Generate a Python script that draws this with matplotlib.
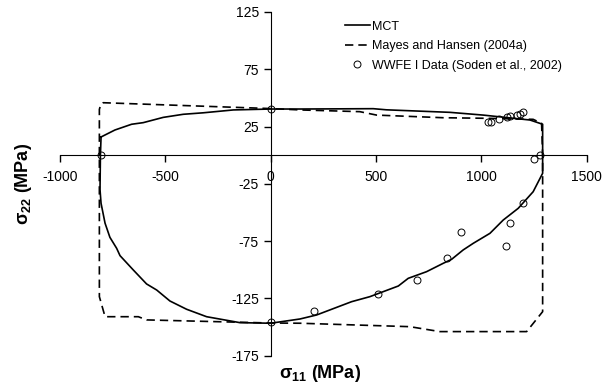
import matplotlib
matplotlib.use('Agg')
import matplotlib.pyplot as plt
import numpy as np

plt.rcParams['font.family'] = ['Liberation Sans', 'DejaVu Sans']
plt.rcParams['axes.unicode_minus'] = False
plt.rcParams['mathtext.fontset'] = 'custom'
plt.rcParams['mathtext.rm'] = 'Liberation Sans'
plt.rcParams['mathtext.bf'] = 'Liberation Sans:bold'

# MCT failure envelope (sigma11, sigma22), traced clockwise from the left
mct_x = [-805, -739, -660, -605, -510, -415, -320, -177, 0, 140, 487, 550, 851, 1009, 1231, 1291,
         1291, 1291, 1246, 1175, 1104, 1041, 962, 914, 859, 819, 740, 653, 606, 471, 384, 218, 139,
         0, -146, -304, -399, -478, -541, -589, -652, -715, -731, -763, -786, -805, -810, -808, -805]
mct_y = [15.9, 22, 27, 28.4, 33, 35.7, 37, 39.5, 40.3, 40.3, 40.6, 39.6, 37.4, 35, 30.7, 27,
         0, -15.8, -31.9, -46.4, -56.6, -68.2, -76.9, -82.7, -90.9, -94.4, -101.7, -107.5, -114.2,
         -123.5, -127.9, -139.5, -143, -146.7, -146.2, -141, -134.5, -127.3, -117.7, -112.4, -100.2,
         -87.7, -81.3, -71.7, -59.4, -42, -30, 0, 15.9]

# Mayes and Hansen (2004a)
mh_x = [-813, -813, -806, -795, 0, 140, 423, 503, 819, 1025, 1246, 1286, 1291, 1291, 1215, 803,
        661, 139, 0, -589, -628, -786, -813, -813]
mh_y = [0, 40, 44.5, 45.8, 40.7, 39.5, 38, 35, 32.7, 32.2, 31.3, 27.8, 0, -136.6, -154, -154,
        -149.7, -146.7, -146.5, -143.8, -141, -141, -123.5, 0]

# WWFE I data
exp_x = [-805, 0, 0, 1034, 1045, 1085, 1123, 1136, 1170, 1183, 1199, 1278, 1250,
         1199, 1136, 1115, 905, 837, 696, 508, 205]
exp_y = [0, 40, -146, 29.3, 29.3, 31.3, 33, 34.2, 35, 36, 37.4, 0, -3.6,
         -42, -58.9, -79, -66.7, -90, -109, -121, -135.7]

fig = plt.figure(figsize=(6.07, 3.87), dpi=100)
ax = fig.add_axes([0.0988, 0.081, 0.8677, 0.888])

ax.plot(mct_x, mct_y, color='black', lw=1.2, label='MCT')
ax.plot(mh_x, mh_y, color='black', lw=1.2, dashes=(5, 3), label='Mayes and Hansen (2004a)')
ax.plot(exp_x, exp_y, 'o', mfc='none', mec='black', mew=0.7, ms=5,
        label='WWFE I Data (Soden et al., 2002)')

ax.set_xlim(-1000, 1500)
ax.set_ylim(-175, 125)
ax.set_xticks([-1000, -500, 0, 500, 1000, 1500])
ax.set_yticks([125, 75, 25, -25, -75, -125, -175])

ax.spines['left'].set_position(('data', 0))
ax.spines['bottom'].set_position(('data', 0))
ax.spines['top'].set_visible(False)
ax.spines['right'].set_visible(False)
ax.tick_params(axis='both', direction='out', length=5, width=1, labelsize=10)
ax.tick_params(axis='x', pad=6)

fig.text(0.527, 0.035, r'$\mathbf{\sigma_{11}}$ (MPa)', ha='center', va='center',
         fontsize=13, fontweight='bold')
fig.text(0.038, 0.525, r'$\mathbf{\sigma_{22}}$ (MPa)', ha='center', va='center',
         fontsize=13, fontweight='bold', rotation=90)

ax.legend(loc='upper left', bbox_to_anchor=(0.524, 1.0), frameon=False, fontsize=9,
          handlelength=2.0, handletextpad=0.2, labelspacing=0.6, borderaxespad=0.3)

fig.savefig('out.png', dpi=100)
